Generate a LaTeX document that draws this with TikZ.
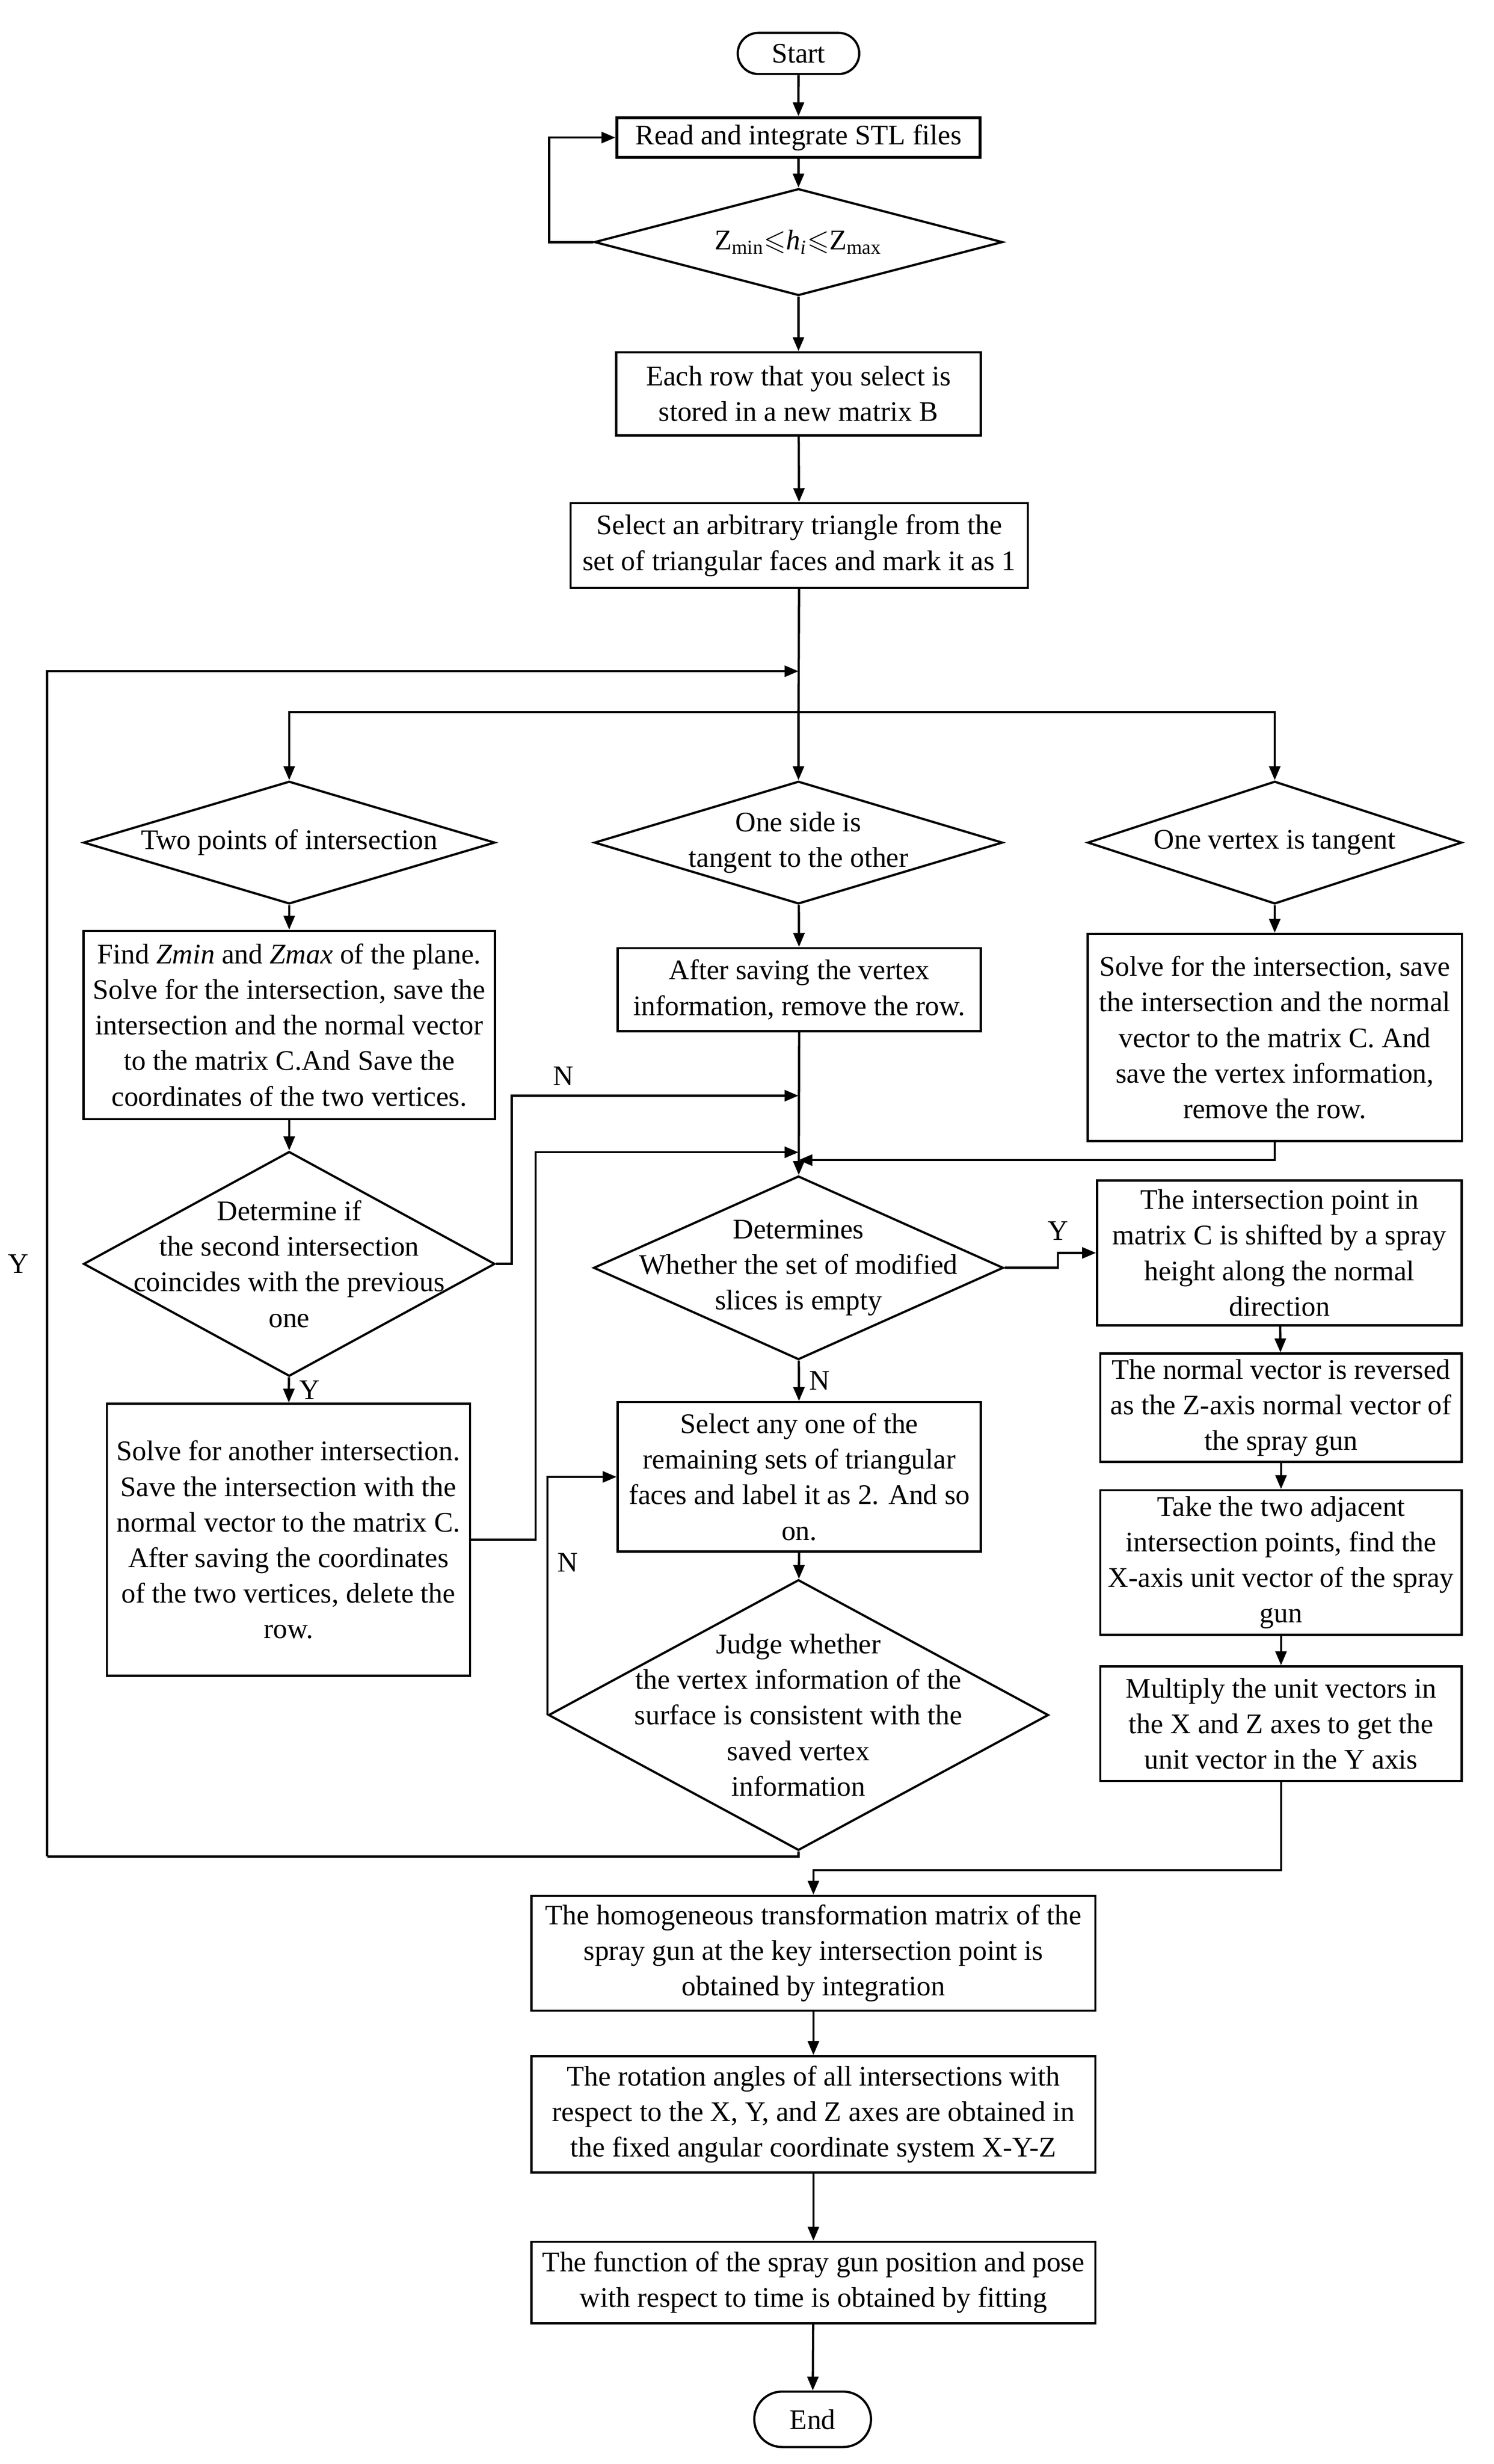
\documentclass[tikz,border=0pt]{standalone}
\usepackage{amssymb}
\usepackage{fontspec}
\setmainfont{Liberation Serif}
\usetikzlibrary{shapes.geometric,shapes.misc,arrows.meta}
\tikzset{
  box/.style 2 args={draw, align=center, inner sep=1pt, minimum width=#1, minimum height=#2},
  dec/.style 2 args={draw, diamond, inner sep=0pt, minimum width=#1, minimum height=#2},
  term/.style 2 args={draw, rounded rectangle, minimum width=#1, minimum height=#2},
  txt/.style={align=center, inner sep=0pt}
}
\begin{document}
\begin{tikzpicture}[x=0.01986cm, y=-0.01986cm, >={Triangle[length=5pt,width=4pt]}, line width=0.8pt, font=\fontsize{10.2}{12.8}\selectfont]
\useasboundingbox (0,0) rectangle (18.88cm,-31.14cm);
% main column
\node[term={1.77cm}{0.52cm}] (start) at (508,34) {Start};
\node[box={4.59cm}{0.5cm}, line width=1.1pt] (read) at (508,87.5) {Read and integrate STL files};
\node[dec={5.16cm}{1.35cm}] (zr) at (508,154) {};
\node[txt] (zrt) at (zr) {Z\textsubscript{min}$\leqslant$\textit{h\textsubscript{i}}$\leqslant$Z\textsubscript{max}};
\node[box={4.61cm}{1.05cm}] (rows) at (508,250.5) {Each row that you select is\\stored in a new matrix B};
\node[box={5.78cm}{1.07cm}] (first) at (508.5,347) {Select an arbitrary triangle from the\\set of triangular faces and mark it as 1};
\coordinate (loopin) at (508,427);
\coordinate (fork) at (508,453);
% three cases
\node[dec={5.2cm}{1.55cm}] (two) at (184,536) {};
\node[txt] (twot) at (two) {Two points of intersection};
\node[dec={5.16cm}{1.55cm}] (side) at (508,536) {};
\node[txt] (sidet) at (side) {One side is\\tangent to the other};
\node[dec={4.73cm}{1.55cm}] (vert) at (811,536) {};
\node[txt] (vertt) at (vert) {One vertex is tangent};
\node[box={5.2cm}{2.38cm}] (findz) at (184,652) {Find \textit{Zmin} and \textit{Zmax} of the plane.\\Solve for the intersection, save the\\intersection and the normal vector\\to the matrix C.And Save the\\coordinates of the two vertices.};
\node[box={4.59cm}{1.05cm}] (saveA) at (508.5,629.5) {After saving the vertex\\information, remove the row.};
\node[box={4.73cm}{2.62cm}] (saveB) at (811,660) {Solve for the intersection, save\\the intersection and the normal\\vector to the matrix C. And\\save the vertex information,\\remove the row.};
\node[dec={5.2cm}{2.84cm}] (coin) at (184,804) {};
\node[txt] (coint) at (coin) {Determine if\\the second intersection\\coincides with the previous\\one};
\node[box={4.59cm}{3.44cm}] (solveB) at (183.5,979.5) {Solve for another intersection.\\Save the intersection with the\\normal vector to the matrix C.\\After saving the coordinates\\of the two vertices, delete the\\row.};
\coordinate (jN) at (508,697);
\coordinate (jS) at (508,733);
\coordinate (jR) at (508,738);
\node[dec={5.18cm}{2.32cm}] (dets) at (508,806.5) {};
\node[txt] (detst) at (dets) {Determines\\Whether the set of modified\\slices is empty};
\node[box={4.59cm}{1.89cm}] (selany) at (508.5,939.5) {Select any one of the\\remaining sets of triangular\\faces and label it as 2. And so\\on.};
\node[dec={6.32cm}{3.42cm}] (judge) at (508,1091) {};
\node[txt] (judget) at (judge) {Judge whether\\the vertex information of the\\surface is consistent with the\\saved vertex\\information};
\coordinate (lp) at (30,1181);
% spray gun column
\node[box={4.61cm}{1.83cm}] (shift) at (814,797) {The intersection point in\\matrix C is shifted by a spray\\height along the normal\\direction};
\node[box={4.57cm}{1.37cm}] (zaxis) at (815,895.5) {The normal vector is reversed\\as the Z-axis normal vector of\\the spray gun};
\node[box={4.57cm}{1.83cm}] (xaxis) at (815,994) {Take the two adjacent\\intersection points, find the\\X-axis unit vector of the spray\\gun};
\node[box={4.57cm}{1.45cm}] (yaxis) at (815,1096.5) {Multiply the unit vectors in\\the X and Z axes to get the\\unit vector in the Y axis};
% bottom
\node[box={7.13cm}{1.45cm}] (homog) at (517.5,1242.5) {The homogeneous transformation matrix of the\\spray gun at the key intersection point is\\obtained by integration};
\node[box={7.13cm}{1.47cm}] (rot) at (517.5,1345) {The rotation angles of all intersections with\\respect to the X, Y, and Z axes are obtained in\\the fixed angular coordinate system X-Y-Z};
\node[box={7.13cm}{1.03cm}] (fit) at (517.5,1452) {The function of the spray gun position and pose\\with respect to time is obtained by fitting};
\node[term={1.71cm}{0.7cm}] (end) at (517,1539) {End};

\draw[->](start)--(read);
\draw[->](read)--(zr);
\draw[->](zr.west)--++(-28,0)|-(read.west);
\draw[->](zr)--(rows);
\draw[->](rows)--(first);
\draw(first)--(fork);
\draw[->](fork)--(side);
\draw[->](fork)-|(two);
\draw[->](fork)-|(vert);
\draw[->](two)--(findz);
\draw[->](findz)--(coin);
\draw[->](side)--(saveA);
\draw[->](vert)--(saveB);
\draw[->](coin.east)--++(10,0)|-(jN)node[pos=0.59,above](lN1){N};
\draw[->](coin)--(solveB)node[midway,right](lY1){Y};
\draw[->](solveB.east)--++(41,0)|-(jS);
\draw[->](saveB.south)|-(jR);
\draw[->](saveA)--(dets);
\draw[->](dets.east)--++(34,0)node[above=0.22cm](lY2){Y}|-(shift.west);
\draw[->](dets)--(selany)node[midway,right](lN2){N};
\draw[->](shift)--(zaxis);
\draw[->](zaxis)--(xaxis);
\draw[->](xaxis)--(yaxis);
\draw[->](selany)--(judge);
\draw[->](judge.west)|-(selany.west)node[pos=0.32,right](lN3){N};
\draw(judge.south)|-(lp);
\draw[->](lp)|-(loopin)node[pos=0.25,left=3pt](lY3){Y};
\draw[->](yaxis.south)--++(0,56)-|(homog);
\draw[->](homog)--(rot);
\draw[->](rot)--(fit);
\draw[->](fit)--(end);
\end{tikzpicture}
\end{document}
